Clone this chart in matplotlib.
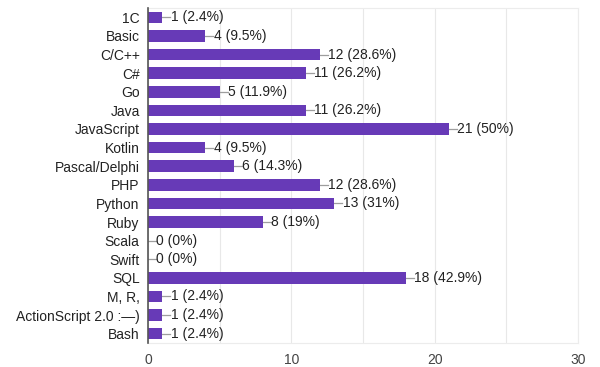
import matplotlib
matplotlib.use("Agg")
import matplotlib.pyplot as plt

plt.rcParams['font.family'] = ['Liberation Sans', 'DejaVu Sans']

langs = ['1C', 'Basic', 'C/C++', 'C#', 'Go', 'Java', 'JavaScript', 'Kotlin',
         'Pascal/Delphi', 'PHP', 'Python', 'Ruby', 'Scala', 'Swift', 'SQL',
         'M, R,', 'ActionScript 2.0 :—)', 'Bash']
counts = [1, 4, 12, 11, 5, 11, 21, 4, 6, 12, 13, 8, 0, 0, 18, 1, 1, 1]
pcts = ['2.4%', '9.5%', '28.6%', '26.2%', '11.9%', '26.2%', '50%', '9.5%',
        '14.3%', '28.6%', '31%', '19%', '0%', '0%', '42.9%', '2.4%', '2.4%', '2.4%']

fig = plt.figure(figsize=(6, 3.67), dpi=100)
ax = fig.add_axes([148/600, 1 - 343/367, 430/600, 335/367])

y = list(range(len(langs)))
ax.barh(y, counts, height=0.62, color='#673ab7', zorder=3)

for i, (c, p) in enumerate(zip(counts, pcts)):
    ax.plot([c, c + 0.55], [i, i], color='#9e9e9e', lw=0.9, zorder=2)
    ax.text(c + 0.57, i, '%d (%s)' % (c, p), va='center', ha='left',
            fontsize=10, color='#222222', zorder=4)

ax.set_xlim(0, 30)
ax.set_ylim(len(langs) - 0.5, -0.5)
ax.set_yticks(y)
ax.set_yticklabels(langs, fontsize=10, color='#222222')
ax.set_xticks([0, 10, 20, 30])
ax.set_xticks([5, 15, 25], minor=True)
ax.tick_params(axis='x', which='both', length=0, labelsize=10, labelcolor='#444444', pad=7)
ax.tick_params(axis='y', length=0, pad=6)
ax.grid(axis='x', which='both', color='#e8e8e8', lw=0.8, zorder=0)

for s in ['top', 'right', 'bottom']:
    ax.spines[s].set_color('#ececec')
    ax.spines[s].set_linewidth(0.8)
ax.spines['left'].set_color('#555555')
ax.spines['left'].set_linewidth(1.2)
ax.spines['left'].set_zorder(5)

plt.savefig('out.png', dpi=100)
